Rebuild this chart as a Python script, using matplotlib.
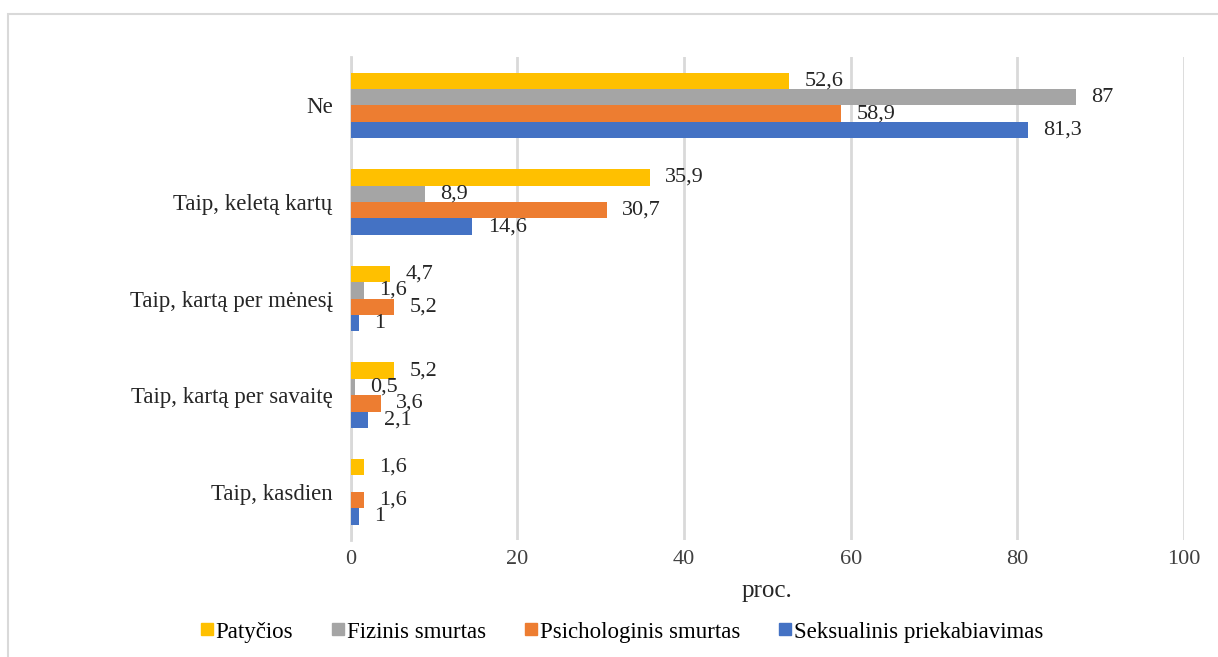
import matplotlib
matplotlib.use("Agg")
import matplotlib.pyplot as plt
from matplotlib.patches import Rectangle
from matplotlib.lines import Line2D
import numpy as np

categories = ["Ne", "Taip, keletą kartų", "Taip, kartą per mėnesį",
              "Taip, kartą per savaitę", "Taip, kasdien"]
series_names = ["Patyčios", "Fizinis smurtas", "Psichologinis smurtas",
                "Seksualinis priekabiavimas"]
patycios = [52.6, 35.9, 4.7, 5.2, 1.6]
fizinis = [87, 8.9, 1.6, 0.5, np.nan]
psichologinis = [58.9, 30.7, 5.2, 3.6, 1.6]
seksualinis = [81.3, 14.6, 1, 2.1, 1]
colors = ["#FFC000", "#A5A5A5", "#ED7D31", "#4472C4"]
xticks = [0, 20, 40, 60, 80, 100]

plt.rcParams['font.family'] = ['Liberation Serif', 'DejaVu Serif']

fig = plt.figure(figsize=(12.18, 6.57), dpi=100)
ax = fig.add_axes([0.288, 0.178, 0.684, 0.735])

# chart area border
fig.patches.append(Rectangle((8/1218, -0.05), 1.1, 1 - 14/657 + 0.05,
                             transform=fig.transFigure, fill=False,
                             edgecolor="#d9d9d9", linewidth=1.5, zorder=0))

data = [patycios, fizinis, psichologinis, seksualinis]
h = 0.17
y = np.arange(len(categories))
for i, (vals, name, c) in enumerate(zip(data, series_names, colors)):
    pos = y + (i - 1.5) * h
    v = np.array(vals, dtype=float)
    ax.barh(pos, np.nan_to_num(v), height=h, color=c, label=name, zorder=3)
    for p, val in zip(pos, v):
        if np.isnan(val):
            continue
        txt = (f"{val:g}").replace(".", ",")
        ax.annotate(txt, (val, p), xytext=(11, 0), textcoords="offset points",
                    ha="left", va="center", fontsize=16, color="#262626",
                    zorder=4)

ax.set_xlim(0, 100)
ax.set_ylim(4.5, -0.5)
ax.set_xticks(xticks)
ax.set_xticklabels([str(t) for t in xticks], fontsize=16, color="#404040")
ax.set_yticks(y)
ax.set_yticklabels(categories, fontsize=16.5, color="#262626")
ax.tick_params(axis="x", length=0, pad=7)
ax.tick_params(axis="y", length=0, pad=13)
ax.grid(axis="x", color="#d9d9d9", linewidth=2, zorder=0)
for s in ["top", "right", "bottom"]:
    ax.spines[s].set_visible(False)
ax.spines["left"].set_color("#d9d9d9")
ax.spines["left"].set_linewidth(2)
ax.set_xlabel("proc.", fontsize=18, color="#262626", labelpad=8)

handles = [Line2D([0], [0], marker="s", linestyle="none", markersize=8,
                  markerfacecolor=c, markeredgecolor=c) for c in colors]
fig.legend(handles, series_names, loc="center", ncol=4,
           bbox_to_anchor=(0.510, 1 - 632/657), frameon=False, fontsize=16.5,
           handletextpad=0.05, columnspacing=1.6, handlelength=0.7,
           borderpad=0)

fig.savefig("out.png", dpi=100)
